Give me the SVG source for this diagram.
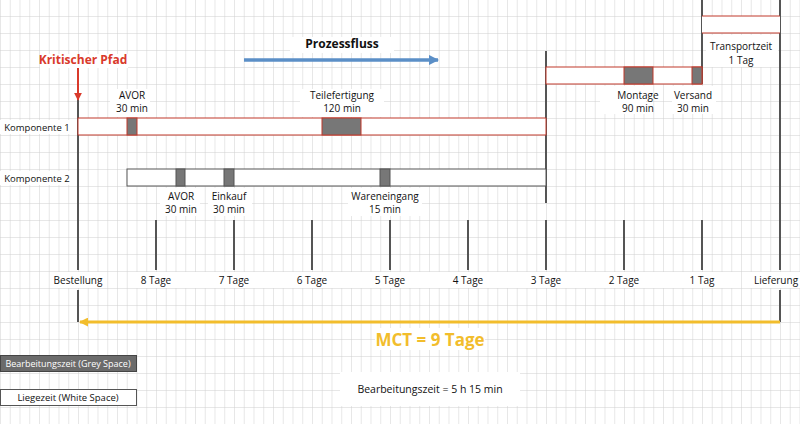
<svg xmlns="http://www.w3.org/2000/svg" width="800" height="424" viewBox="0 0 800 424">
<defs>
<pattern id="grid" x="0" y="16" width="9.75" height="17" patternUnits="userSpaceOnUse">
<path d="M0 0H9.75M0 0V17" fill="none" stroke="#d0d0d0" stroke-width="1"/>
</pattern>
<marker id="ab" viewBox="0 0 10 10" refX="9" refY="5" markerWidth="3" markerHeight="3" orient="auto"><path d="M0 0L10 5L0 10z" fill="#5b8fc7"/></marker>
<marker id="ar" viewBox="0 0 10 10" refX="9" refY="5" markerWidth="4" markerHeight="4" orient="auto"><path d="M0 0L10 5L0 10z" fill="#d93a2b"/></marker>
<marker id="ay" viewBox="0 0 10 10" refX="9" refY="5" markerWidth="3" markerHeight="3" orient="auto"><path d="M0 0L10 5L0 10z" fill="#f2bd2c"/></marker>
</defs>
<style>
text{font-family:"Open Sans","Liberation Sans",sans-serif;font-size:10px;fill:#111;text-anchor:middle}
.bg{fill:#fff}
.v{stroke:#555;stroke-width:2}
.gr{fill:#777;stroke:#c0392b;stroke-width:1}
.gk{fill:#777;stroke:#555;stroke-width:1}
</style>
<rect width="800" height="424" fill="#fff"/>
<rect width="800" height="424" fill="url(#grid)"/>
<g class="bg">
<rect x="290" y="37" width="104" height="16"/>
<rect x="40" y="54" width="88" height="14"/>
<rect x="110" y="89" width="40" height="28"/>
<rect x="300" y="89" width="84" height="28"/>
<rect x="0" y="120" width="74" height="14"/>
<rect x="0" y="171" width="74" height="14"/>
<rect x="160" y="188" width="40" height="28"/>
<rect x="208" y="188" width="44" height="28"/>
<rect x="348" y="188" width="74" height="28"/>
<rect x="600" y="86" width="46" height="28"/>
<rect x="672" y="86" width="44" height="28"/>
<rect x="706" y="35" width="72" height="32"/>
<rect x="50" y="272" width="56" height="16"/>
<rect x="136" y="272" width="600" height="16"/>
<rect x="750" y="272" width="50" height="16"/>
<rect x="375" y="328" width="110" height="22"/>
<rect x="340" y="372" width="180" height="34"/>
</g>
<g id="connectors">
<line class="v" x1="78" y1="100" x2="78" y2="270"/>
<line class="v" x1="78" y1="290" x2="78" y2="322"/>
<line class="v" x1="780" y1="0" x2="780" y2="270"/>
<line class="v" x1="780" y1="290" x2="780" y2="322"/>
<line class="v" x1="546" y1="51" x2="546" y2="203"/>
<line class="v" x1="702" y1="0" x2="702" y2="84"/>
<g class="v">
<line x1="156" y1="220" x2="156" y2="270"/><line x1="234" y1="220" x2="234" y2="270"/>
<line x1="312" y1="220" x2="312" y2="270"/><line x1="390" y1="220" x2="390" y2="270"/>
<line x1="468" y1="220" x2="468" y2="270"/><line x1="546" y1="220" x2="546" y2="270"/>
<line x1="624" y1="220" x2="624" y2="270"/><line x1="702" y1="220" x2="702" y2="270"/>
</g>
<line x1="244" y1="60" x2="438" y2="60" stroke="#5b8fc7" stroke-width="3.5" marker-end="url(#ab)"/>
<line x1="78" y1="68" x2="78" y2="100" stroke="#d93a2b" stroke-width="2" marker-end="url(#ar)"/>
<line x1="780" y1="322" x2="80" y2="322" stroke="#f2bd2c" stroke-width="3" marker-end="url(#ay)"/>
</g>
<g id="komponente1">
<rect x="78" y="118" width="468" height="17" fill="#fff" stroke="#c0392b"/>
<rect class="gr" x="127" y="118" width="10" height="17"/>
<rect class="gr" x="322" y="118" width="39" height="17"/>
<text x="37" y="131" style="font-size:9.5px">Komponente 1</text>
<text x="132" y="99">AVOR</text><text x="132" y="112">30 min</text>
<text x="342" y="99">Teilefertigung</text><text x="342" y="112">120 min</text>
</g>
<g id="komponente2">
<rect x="127" y="169" width="419" height="17" fill="#fff" stroke="#555"/>
<rect class="gk" x="176" y="169" width="9" height="17"/>
<rect class="gk" x="224" y="169" width="10" height="17"/>
<rect class="gk" x="380" y="169" width="10" height="17"/>
<text x="37" y="182" style="font-size:9.5px">Komponente 2</text>
<text x="181" y="200">AVOR</text><text x="181" y="213">30 min</text>
<text x="229" y="200">Einkauf</text><text x="229" y="213">30 min</text>
<text x="385" y="200">Wareneingang</text><text x="385" y="213">15 min</text>
</g>
<g id="montage">
<rect x="546" y="67" width="156" height="17" fill="#fff" stroke="#c0392b"/>
<rect class="gr" x="624" y="67" width="29" height="17"/>
<rect class="gr" x="692" y="67" width="10" height="17"/>
<text x="638" y="99">Montage</text><text x="638" y="112">90 min</text>
<text x="693" y="99">Versand</text><text x="693" y="112">30 min</text>
</g>
<g id="transport">
<rect x="702" y="16" width="78" height="17" fill="#fff"/>
<line x1="702" y1="16" x2="780" y2="16" stroke="#c0392b"/>
<line x1="702" y1="33" x2="780" y2="33" stroke="#c0392b"/>
<text x="741" y="50">Transportzeit</text><text x="741" y="64">1 Tag</text>
</g>
<g id="titles">
<text x="342" y="48" style="font-size:12px;font-weight:bold">Prozessfluss</text>
<text x="83" y="64" style="font-size:12px;font-weight:bold;fill:#d93a2b">Kritischer Pfad</text>
</g>
<g id="timeline">
<text x="78" y="284">Bestellung</text><text x="156" y="284">8 Tage</text><text x="234" y="284">7 Tage</text>
<text x="312" y="284">6 Tage</text><text x="390" y="284">5 Tage</text><text x="468" y="284">4 Tage</text>
<text x="546" y="284">3 Tage</text><text x="624" y="284">2 Tage</text><text x="702" y="284">1 Tag</text>
<text x="776" y="284">Lieferung</text>
</g>
<g id="mct"><text x="430" y="346" style="font-size:17px;font-weight:bold;fill:#f2bd2c">MCT = 9 Tage</text></g>
<g id="legend">
<rect x="0.5" y="355.5" width="136" height="16" fill="#6b6b6b" stroke="#444"/>
<text x="68" y="367" style="font-size:9px;fill:#fff">Bearbeitungszeit (Grey Space)</text>
<rect x="0.5" y="389.5" width="136" height="16" fill="#fff" stroke="#555"/>
<text x="68" y="401" style="font-size:9.5px">Liegezeit (White Space)</text>
<text x="430" y="393" style="font-size:10.5px">Bearbeitungszeit = 5 h 15 min</text>
</g>
</svg>
